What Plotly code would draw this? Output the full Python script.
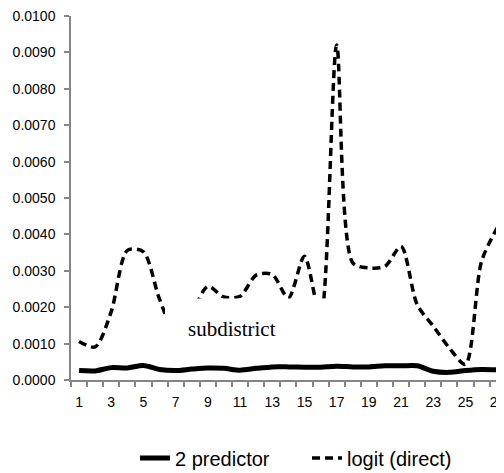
import plotly.graph_objects as go

categories = list(range(1, 28))
two_predictor = [0.00026, 0.00025, 0.00034, 0.00033, 0.00040, 0.00029, 0.00026, 0.00030,
                 0.00033, 0.00032, 0.00027, 0.00032, 0.00036, 0.00036, 0.00035, 0.00035,
                 0.00038, 0.00036, 0.00036, 0.00039, 0.00039, 0.00039, 0.00024, 0.00021,
                 0.00026, 0.00029, 0.00028]
logit_direct = [0.00106, 0.00091, 0.00188, 0.00356, 0.00352, 0.00222, 0.00130, 0.00185,
                0.00257, 0.00228, 0.00230, 0.00288, 0.00290, 0.00225, 0.00340, 0.00170,
                0.00920, 0.00322, 0.00308, 0.00312, 0.00367, 0.00207, 0.00148, 0.00088,
                0.00043, 0.00326, 0.00420]
y_tick_vals = [0.0000, 0.0010, 0.0020, 0.0030, 0.0040, 0.0050, 0.0060, 0.0070, 0.0080, 0.0090, 0.0100]
x_tick_labels = [1, 3, 5, 7, 9, 11, 13, 15, 17, 19, 21, 23, 25, 27]
series_names = ["2 predictor", "logit (direct)"]
note_text = "subdistrict"

# the page body adds an 8px offset; size the figure to fill the 504x473 window
OFF = 8
W, H = 504 - OFF, 473 - OFF
ML, MT = 71 - OFF, 16 - OFF
MB = H - (380.5 - OFF)
MR = 0
PW, PH = W - ML - MR, H - MT - MB
PX_PER_CAT = 16.1

def px2paper_x(px):
    return (px - OFF - ML) / PW

def px2paper_y(py):
    return (H - MB - (py - OFF)) / PH

axis_grey = "#868686"

fig = go.Figure()
fig.add_trace(go.Scatter(
    x=categories, y=two_predictor, name=series_names[0], mode="lines",
    line=dict(color="black", width=5, shape="spline", smoothing=0.8),
))
fig.add_trace(go.Scatter(
    x=categories, y=logit_direct, name=series_names[1], mode="lines",
    line=dict(color="black", width=3.5, dash="8px,5px", shape="spline", smoothing=0.8),
))

# white text box covering part of the chart
fig.add_shape(type="rect", xref="paper", yref="paper",
              x0=px2paper_x(165), x1=px2paper_x(328),
              y0=px2paper_y(356), y1=px2paper_y(299),
              fillcolor="white", line=dict(width=0), layer="above")
fig.add_annotation(text=note_text, xref="paper", yref="paper",
                   x=px2paper_x(186), y=px2paper_y(329), xanchor="left", yanchor="middle",
                   showarrow=False,
                   font=dict(family="Liberation Serif", size=21, color="#000000"))

fig.update_layout(
    width=W, height=H,
    margin=dict(l=ML, r=MR, t=MT, b=MB, pad=0, autoexpand=False),
    paper_bgcolor="white", plot_bgcolor="white",
    font=dict(family="Liberation Sans", size=14, color="#000000"),
    showlegend=True,
    legend=dict(orientation="h", xref="container", yref="container",
                x=(135 - OFF) / W, y=1 - (458 - OFF) / H, xanchor="left", yanchor="middle",
                font=dict(family="Liberation Sans", size=20, color="#000000"),
                entrywidth=127, entrywidthmode="pixels",
                bgcolor="rgba(0,0,0,0)"),
    xaxis=dict(
        range=[0.5, 0.5 + PW / PX_PER_CAT],
        tickmode="array", tickvals=x_tick_labels, ticktext=[str(v) for v in x_tick_labels],
        ticks="", showgrid=False, zeroline=False,
        showline=True, linecolor=axis_grey, linewidth=1.5,
        ticklabelstandoff=8, ticklabeloverflow="allow",
        minor=dict(tickmode="linear", tick0=0.5, dtick=1, ticks="outside",
                   ticklen=5, tickwidth=1.5, tickcolor=axis_grey, showgrid=False),
        fixedrange=True,
    ),
    yaxis=dict(
        range=[0, 0.0100],
        tickmode="array", tickvals=y_tick_vals, tickformat=".4f",
        ticks="outside", ticklen=5, tickwidth=1.5, tickcolor=axis_grey,
        showgrid=False, zeroline=False,
        showline=True, linecolor=axis_grey, linewidth=1.5,
        ticklabelstandoff=6, ticklabeloverflow="allow",
        fixedrange=True,
    ),
)

fig.write_html("out.html")
